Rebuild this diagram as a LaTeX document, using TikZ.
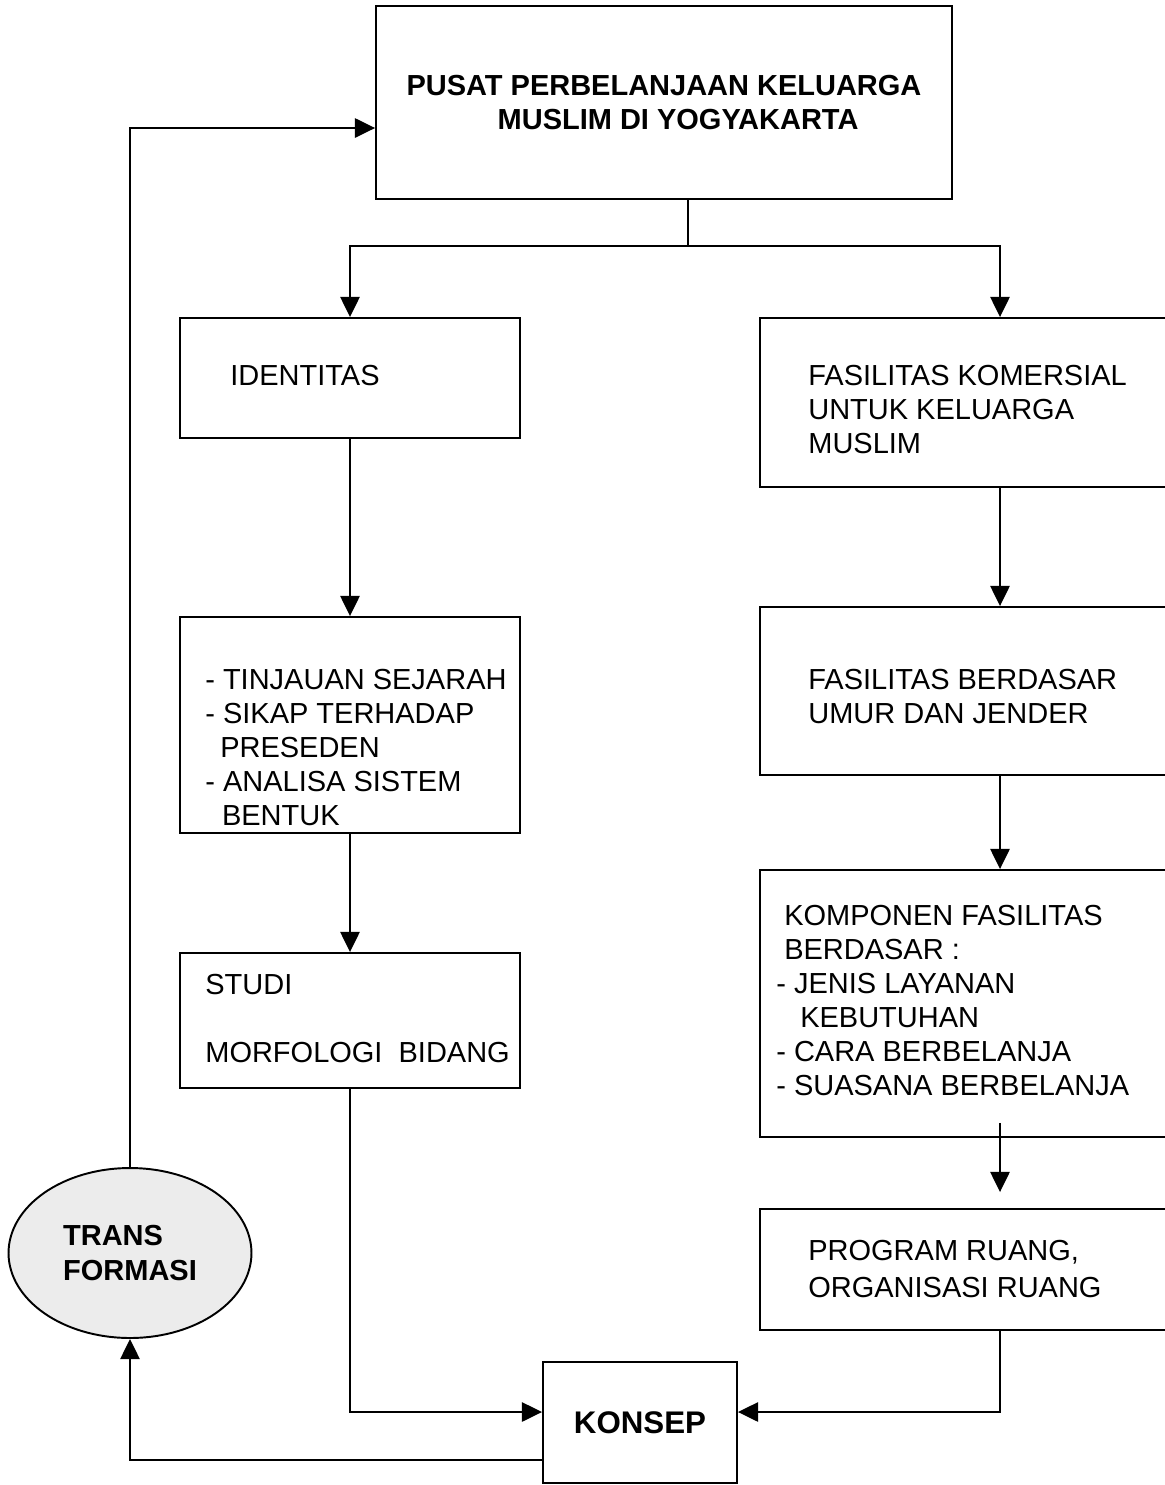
\documentclass[tikz,border=0pt]{standalone}
\usepackage{fontspec}
\setmainfont{Liberation Sans}
\usetikzlibrary{arrows.meta,positioning,calc,shapes.geometric}

\newcommand{\isi}{\fontsize{16.5}{19.4}\selectfont}

\begin{document}
\begin{tikzpicture}[
    x=0.02cm, y=-0.02cm,
    kotak/.style={rectangle, draw, line width=1.1pt, inner sep=0pt,
                font=\isi},
    teks/.style={anchor=north west, inner sep=0pt, align=left, font=\isi},
    garis/.style={line width=1.1pt},
    panah/.style={line width=1.1pt, -{Triangle[length=11.5pt,width=11pt]}}
]
\useasboundingbox (0,0) rectangle (1165,1485);

% kotak-kotak
\node[kotak, minimum width=11.52cm, minimum height=3.86cm, align=center,
      font=\isi\bfseries] (puncak) at (664,102.5)
    {PUSAT PERBELANJAAN KELUARGA\\\hspace*{16pt}MUSLIM DI YOGYAKARTA};
\node[kotak, minimum width=6.8cm, minimum height=2.4cm] (identitas) at (350,378) {};
\node[kotak, minimum width=8.5cm, minimum height=3.38cm] (fasilitas) at (972.5,402.5) {};
\node[kotak, minimum width=6.8cm, minimum height=4.32cm] (tinjauan) at (350,725) {};
\node[kotak, minimum width=8.5cm, minimum height=3.36cm] (umur) at (972.5,691) {};
\node[kotak, minimum width=6.8cm, minimum height=2.7cm] (studi) at (350,1020.5) {};
\node[kotak, minimum width=8.5cm, minimum height=5.34cm] (komponen) at (972.5,1003.5) {};
\node[kotak, minimum width=8.5cm, minimum height=2.42cm] (program) at (972.5,1269.5) {};
\node[kotak, minimum width=3.88cm, minimum height=2.42cm,
      font=\fontsize{17.8}{20}\selectfont\bfseries] (konsep) at (640,1422.5) {KONSEP};
\node[ellipse, draw, line width=1.1pt, fill=gray!15, inner sep=0pt,
      minimum width=4.86cm, minimum height=3.4cm, align=left,
      font=\isi\bfseries] (transformasi) at (130,1253) {TRANS\\FORMASI};

% isi teks
\node[teks] (t-identitas) at (230,364.5) {IDENTITAS};
\node[teks] (t-fasilitas) at (808,364.5) {FASILITAS KOMERSIAL\\UNTUK KELUARGA\\MUSLIM};
\node[teks] (t-tinjauan) at (205,668.5) {- TINJAUAN SEJARAH\\- SIKAP TERHADAP\\
    \hspace*{8.5pt}PRESEDEN\\- ANALISA SISTEM\\\hspace*{9.5pt}BENTUK};
\node[teks] (t-umur) at (808,668.5) {FASILITAS BERDASAR\\UMUR DAN JENDER};
\node[teks] (t-studi) at (205,973.5) {STUDI\\\mbox{}\\MORFOLOGI~~BIDANG};
\node[teks] (t-komponen) at (776,904.5) {\hspace*{4.5pt}KOMPONEN FASILITAS\\
    \hspace*{4.5pt}BERDASAR :\\- JENIS LAYANAN\\\hspace*{13.6pt}KEBUTUHAN\\
    - CARA BERBELANJA\\- SUASANA BERBELANJA};
\node[teks, font=\fontsize{16.5}{21}\selectfont] (t-program) at (808,1239.5)
    {PROGRAM RUANG,\\ORGANISASI RUANG};

% titik bantu
\coordinate (cabang) at (688,246);
\coordinate (kanan) at (1000,0);
\coordinate (masuk) at (0,1412);
\coordinate (keluar) at (0,1460);
\coordinate (balik) at (0,128);

% penghubung
\draw[garis] (puncak.south -| cabang) -- (cabang);
\draw[panah] (cabang) -| (identitas.north);
\draw[panah] (cabang) -| (fasilitas.north -| kanan);
\draw[panah] (identitas) -- (tinjauan);
\draw[panah] (tinjauan) -- (studi);
\draw[panah] (fasilitas.south -| kanan) -- (umur.north -| kanan);
\draw[panah] (umur.south -| kanan) -- (komponen.north -| kanan);
\draw[panah] ($(komponen.south -| kanan)+(0,-15)$) -- ($(program.north -| kanan)+(0,-16)$);
\draw[panah] (studi.south) |- (konsep.west |- masuk);
\draw[panah] (program.south -| kanan) |- (konsep.east |- masuk);
\draw[panah] (konsep.west |- keluar) -| (transformasi.south);
\draw[panah] (transformasi.north) |- (puncak.west |- balik);
\end{tikzpicture}
\end{document}
